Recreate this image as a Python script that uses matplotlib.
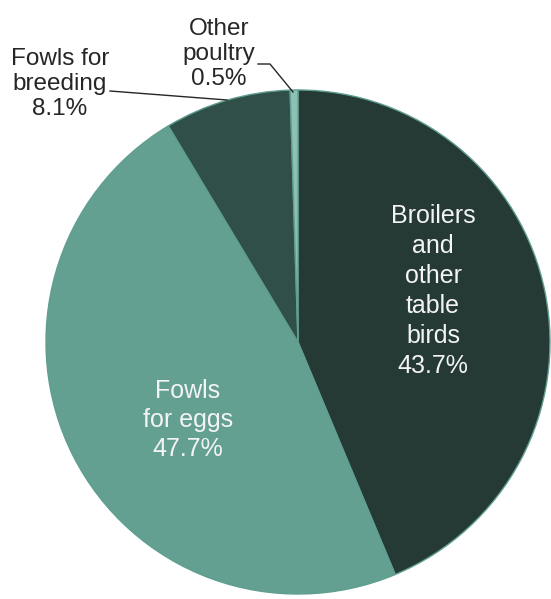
import matplotlib
matplotlib.use('Agg')
from matplotlib import pyplot as plt

plt.rcParams['font.family'] = ['Liberation Sans', 'DejaVu Sans']

labels = ['Broilers\nand\nother\ntable\nbirds', 'Fowls\nfor eggs', 'Fowls for\nbreeding', 'Other\npoultry']
shares = [43.7, 47.7, 8.1, 0.5]
colors = ['#253a35', '#63a092', '#2f4f48', '#8fc0b5']

fig = plt.figure(figsize=(5.51, 5.99), dpi=100)
ax = fig.add_axes([0, 0, 1, 1])

# pixel-like coordinates, y up
cx, cy, r = 298, 599 - 342, 252
ax.pie(shares, colors=colors, startangle=90, counterclock=False,
       center=(cx, cy), radius=r, frame=True,
       wedgeprops=dict(edgecolor='#5f9e90', linewidth=1.0))
ax.set_xlim(0, 551)
ax.set_ylim(0, 599)
ax.set_aspect('equal')
ax.axis('off')

# inside labels
ax.text(433, 599 - 291, f'{labels[0]}\n{shares[0]}%', ha='center', va='center',
        fontsize=18, color='#f4f4f4', linespacing=1.32)
ax.text(188, 599 - 420, f'{labels[1]}\n{shares[1]}%', ha='center', va='center',
        fontsize=18, color='#f4f4f4', linespacing=1.25)

# outside labels with leader lines
ax.text(60, 599 - 84, f'{labels[2]}\n{shares[2]}%', ha='center', va='center',
        fontsize=17.5, color='#262626', linespacing=1.2)
ax.plot([110, 227], [599 - 91, 599 - 100], color='#262626', lw=1)

ax.text(219, 599 - 54, f'{labels[3]}\n{shares[3]}%', ha='center', va='center',
        fontsize=17.5, color='#262626', linespacing=1.2)
ax.plot([258, 270, 293], [599 - 64, 599 - 64, 599 - 92], color='#262626', lw=1)

fig.savefig('out.png', dpi=100)
